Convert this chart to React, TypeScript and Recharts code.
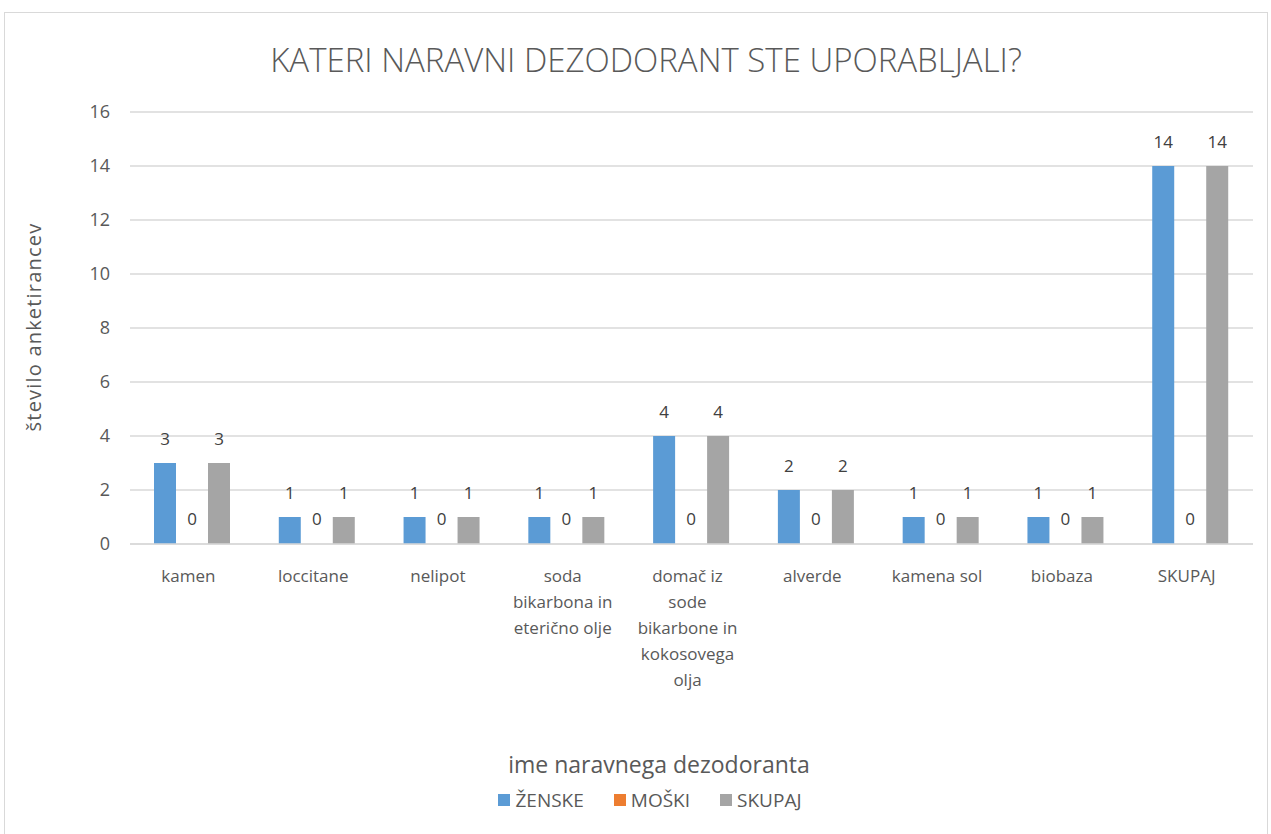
import React from 'react';
import { BarChart, Bar, XAxis, YAxis, CartesianGrid, LabelList, Rectangle } from 'recharts';

const categories = [
  'kamen',
  'loccitane',
  'nelipot',
  'soda\nbikarbona in\neterično olje',
  'domač iz\nsode\nbikarbone in\nkokosovega\nolja',
  'alverde',
  'kamena sol',
  'biobaza',
  'SKUPAJ',
];
const zenske = [3, 1, 1, 1, 4, 2, 1, 1, 14];
const moski = [0, 0, 0, 0, 0, 0, 0, 0, 0];
const skupaj = [3, 1, 1, 1, 4, 2, 1, 1, 14];
const yTicks = [0, 2, 4, 6, 8, 10, 12, 14, 16];

const series = [
  { key: 'zenske', name: 'ŽENSKE', color: '#5B9BD5' },
  { key: 'moski', name: 'MOŠKI', color: '#ED7D31' },
  { key: 'skupaj', name: 'SKUPAJ', color: '#A5A5A5' },
];

const FONT = '"Open Sans", "Liberation Sans", sans-serif';
const TEXT = '#595959';

const data = categories.map((name, i) => ({
  name,
  zenske: zenske[i],
  moski: moski[i],
  skupaj: skupaj[i],
}));

const CategoryTick = (props: any) => {
  const { x, y, payload } = props;
  const lines = String(payload.value).split('\n');
  return (
    <g transform={`translate(${x - 4},${y})`}>
      {lines.map((line: string, i: number) => (
        <text key={i} x={0} y={i * 26} dy={30} textAnchor="middle" fill={TEXT} fontSize={17} fontFamily={FONT}>
          {line}
        </text>
      ))}
    </g>
  );
};

// zero values still get a label, but no visible bar
const BarShape = (props: any) => {
  if (!props.value) return <g />;
  return <Rectangle {...props} />;
};

const labelStyle = { fill: '#404040', fontSize: 17, fontFamily: FONT };

export default function App() {
  return (
    <div style={{ position: 'absolute', left: 0, top: 0, width: 1271, height: 834, background: '#fff', fontFamily: FONT }}>
      <div style={{ position: 'absolute', left: 4, top: 12, width: 1264, height: 830, border: '1px solid #D9D9D9', boxSizing: 'border-box' }} />
      <div style={{ position: 'absolute', left: 0, top: 37, width: 1292, textAlign: 'center', fontSize: 33, fontWeight: 300, color: TEXT }}>
        KATERI NARAVNI DEZODORANT STE UPORABLJALI?
      </div>
      <div style={{ position: 'absolute', left: 0, top: 748, width: 1318, textAlign: 'center', fontSize: 23, color: TEXT }}>
        ime naravnega dezodoranta
      </div>
      <div
        style={{
          position: 'absolute',
          left: 0,
          top: 787,
          width: 1300,
          display: 'flex',
          justifyContent: 'center',
          gap: 30,
          fontSize: 19,
          color: TEXT,
        }}
      >
        {series.map((s) => (
          <span key={s.key} style={{ display: 'flex', alignItems: 'center' }}>
            <span style={{ width: 12, height: 12, background: s.color, marginRight: 5, display: 'inline-block' }} />
            {s.name}
          </span>
        ))}
      </div>
      <div
        style={{
          position: 'absolute',
          left: 33,
          top: 327,
          transform: 'translate(-50%, -50%) rotate(-90deg)',
          whiteSpace: 'nowrap',
          fontSize: 20,
          letterSpacing: 1.2,
          color: TEXT,
        }}
      >
        število anketirancev
      </div>
      <BarChart
        width={1271}
        height={834}
        data={data}
        margin={{ top: 112, right: 18, bottom: 260, left: 0 }}
        barSize={22}
        barGap={5}
        style={{ position: 'absolute', left: 0, top: 0 }}
      >
        <CartesianGrid vertical={false} stroke="#D9D9D9" strokeWidth={1.5} />
        <XAxis
          dataKey="name"
          tick={<CategoryTick />}
          tickLine={false}
          axisLine={{ stroke: '#D9D9D9', strokeWidth: 1.5 }}
          interval={0}
          height={30}
        />
        <YAxis
          width={130}
          domain={[0, 16]}
          ticks={yTicks}
          tickLine={false}
          axisLine={false}
          tickMargin={14}
          tick={{ fill: TEXT, fontSize: 18, fontFamily: FONT }}
        />
        {series.map((s) => (
          <Bar
            key={s.key}
            dataKey={s.key}
            name={s.name}
            fill={s.color}
            minPointSize={1}
            shape={<BarShape />}
            isAnimationActive={false}
          >
            <LabelList dataKey={s.key} position="top" offset={18} style={labelStyle} />
          </Bar>
        ))}
      </BarChart>
    </div>
  );
}
